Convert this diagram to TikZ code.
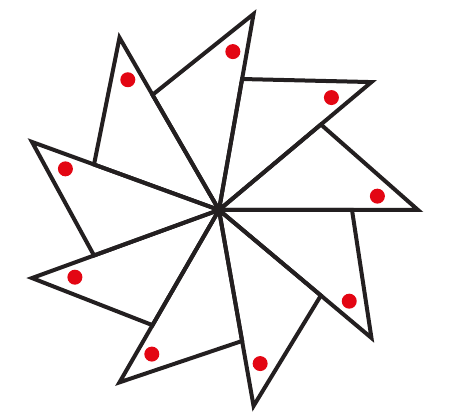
\documentclass[tikz,border=0pt]{standalone}
\usepackage{tikz}
\usetikzlibrary{calc}
\definecolor{linegray}{HTML}{231F20}
\definecolor{dotred}{HTML}{E30613}
\tikzset{
    blade/.style={draw=linegray, line width=4pt, line join=miter},
    seed/.style={circle, fill=dotred, inner sep=0pt, minimum size=15pt}
}
\begin{document}
\begin{tikzpicture}[x=1pt, y=1pt]
    \useasboundingbox (0,0) rectangle (458,417);
    \coordinate (hub) at (219,207);
    \foreach \k in {0,...,8} {
        \pgfmathsetmacro\a{40*\k}
        \coordinate (tip\k) at ($(hub)+(\a:199)$);
        \coordinate (knee\k) at ($(hub)+(\a+40:133)$);
        \draw[blade] (hub) -- (tip\k) -- (knee\k) -- cycle;
        \node[seed] (dot\k) at ($(hub)+(\a+5:159)$) {};
    }
\end{tikzpicture}
\end{document}
